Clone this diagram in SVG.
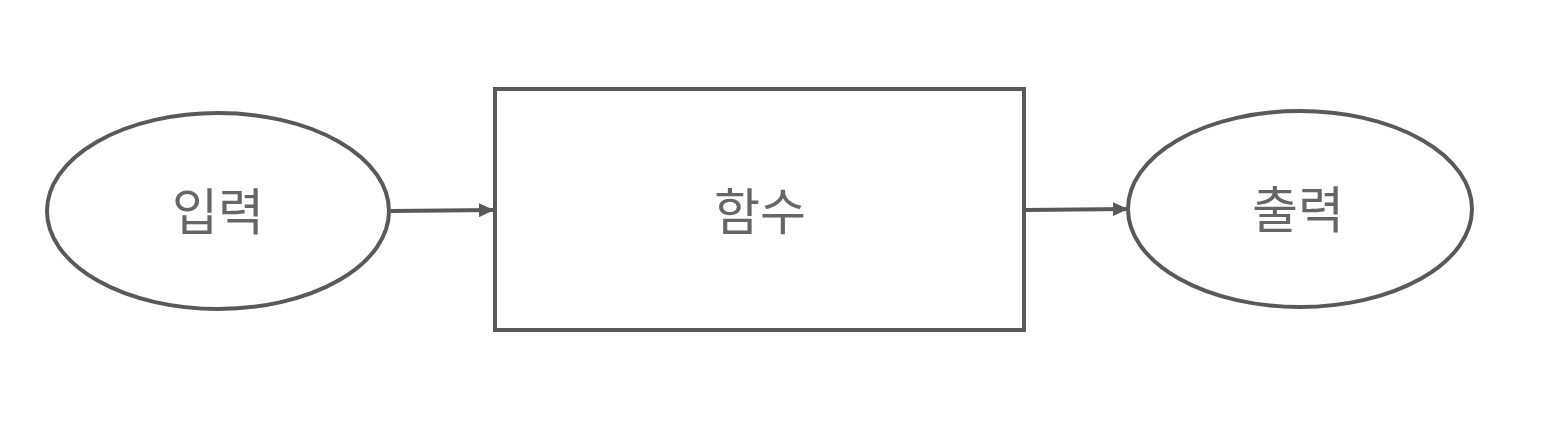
<svg xmlns="http://www.w3.org/2000/svg" width="1551" height="430" viewBox="0 0 1551 430">
<style>
.shape{fill:#ffffff;stroke:#595959;stroke-width:4}
.label{font-family:"Noto Sans CJK KR","Noto Sans",sans-serif;font-size:50px;fill:#666666;text-anchor:middle;dominant-baseline:central}
.conn{stroke:#595959;stroke-width:4;fill:none}
</style>
<defs>
<marker id="arr" markerWidth="16" markerHeight="14" refX="15" refY="7" orient="auto" markerUnits="userSpaceOnUse">
<path d="M0,0 L15,7 L0,14 Z" fill="#595959"/>
</marker>
</defs>
<rect width="1551" height="430" fill="#ffffff"/>
<g id="input">
<ellipse class="shape" cx="218" cy="211" rx="171" ry="98"/>
<text class="label" x="218" y="208">입력</text>
</g>
<g id="function">
<rect class="shape" x="495" y="89" width="529" height="241"/>
<text class="label" x="760" y="208">함수</text>
</g>
<g id="output">
<ellipse class="shape" cx="1300" cy="209" rx="172" ry="98"/>
<text class="label" x="1298" y="206">출력</text>
</g>
<g id="connectors">
<line class="conn" x1="391" y1="211" x2="494" y2="210" marker-end="url(#arr)"/>
<line class="conn" x1="1026" y1="210" x2="1128" y2="209" marker-end="url(#arr)"/>
</g>
</svg>
